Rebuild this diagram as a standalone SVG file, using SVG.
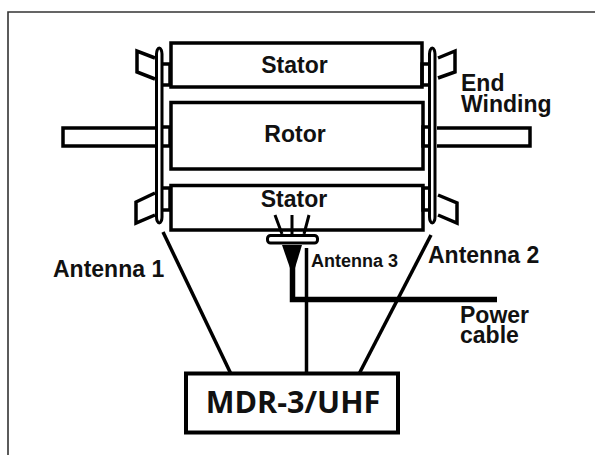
<svg xmlns="http://www.w3.org/2000/svg" width="595" height="455" viewBox="0 0 595 455">
<style>
.o{fill:#fff;stroke:#000;stroke-width:3.5}
.n{fill:none;stroke:#000;stroke-width:3.5}
.w{fill:none;stroke:#000;stroke-width:3}
text{font-family:"Liberation Sans",Arial,sans-serif;font-weight:700;fill:#111;font-size:23px}
</style>
<rect width="595" height="455" fill="#fff"/>
<path d="M8 455V12H595" fill="none" stroke="#333" stroke-width="1.6"/>
<g id="shaft">
<path class="n" d="M155 128H63V146H155"/>
<path class="n" d="M437 128H530V146H437"/>
</g>
<g id="stator-top"><rect class="o" x="171" y="43" width="251" height="44"/><text x="294.500" y="73" text-anchor="middle">Stator</text></g>
<g id="rotor"><rect class="o" x="171" y="102.500" width="252" height="66.500"/><text x="295" y="142" text-anchor="middle">Rotor</text></g>
<g id="stator-bottom"><rect class="o" x="171" y="185.500" width="252" height="44.500"/><text x="294" y="207" text-anchor="middle">Stator</text></g>
<g id="end-winding-left">
<path class="o" d="M155 58L137 51V72L155 79"/>
<path class="o" d="M155 193L136 202V223L155 215"/>
<path class="n" d="M163 64H170V85H163M163 127H170V146H163M163 188H170V210H163" stroke-width="3"/>
</g>
<g id="end-winding-right">
<path class="o" d="M438 58L455 51V72L438 78"/>
<path class="o" d="M438 195L457 203V223L438 215"/>
<path class="n" d="M428 64H422V85H428M428 127H423V146H428M428 188H423V210H428" stroke-width="3"/>
<text x="461" y="91">End</text>
<text x="461" y="112">Winding</text>
</g>
<g id="antenna-1-ring"><rect x="156.500" y="48" width="5.500" height="175" rx="2.750" ry="6" fill="#fff" stroke="#000" stroke-width="3"/></g>
<g id="antenna-2-ring"><rect x="429.500" y="48" width="5.500" height="175" rx="2.750" ry="6" fill="#fff" stroke="#000" stroke-width="3"/></g>
<g id="antenna-3">
<path class="w" d="M275 215L282 234M292 215V235M309 215L304 234"/>
<rect x="267.500" y="235.500" width="50" height="7.500" rx="3" fill="#fff" stroke="#000" stroke-width="3"/>
<path d="M282 245H302L295 268H290Z" fill="#000"/>
<text x="311" y="267" style="font-size:18px">Antenna 3</text>
</g>
<g id="connectors">
<path class="n" d="M163 232L231 374"/>
<path class="n" d="M431 235L359 374"/>
<path class="n" d="M306.500 248V374"/>
<path d="M292.500 262V299.500H497" fill="none" stroke="#000" stroke-width="5.500"/>
</g>
<g id="labels">
<text x="53" y="277">Antenna 1</text>
<text x="428" y="263">Antenna 2</text>
<text x="460" y="323">Power</text>
<text x="460" y="343">cable</text>
</g>
<g id="mdr"><rect x="186" y="373.500" width="212" height="59" fill="#fff" stroke="#000" stroke-width="4"/><text x="293" y="413" text-anchor="middle" style="font-family:'Open Sans','Liberation Sans',sans-serif;font-size:30.500px">MDR-3/UHF</text></g>
</svg>
